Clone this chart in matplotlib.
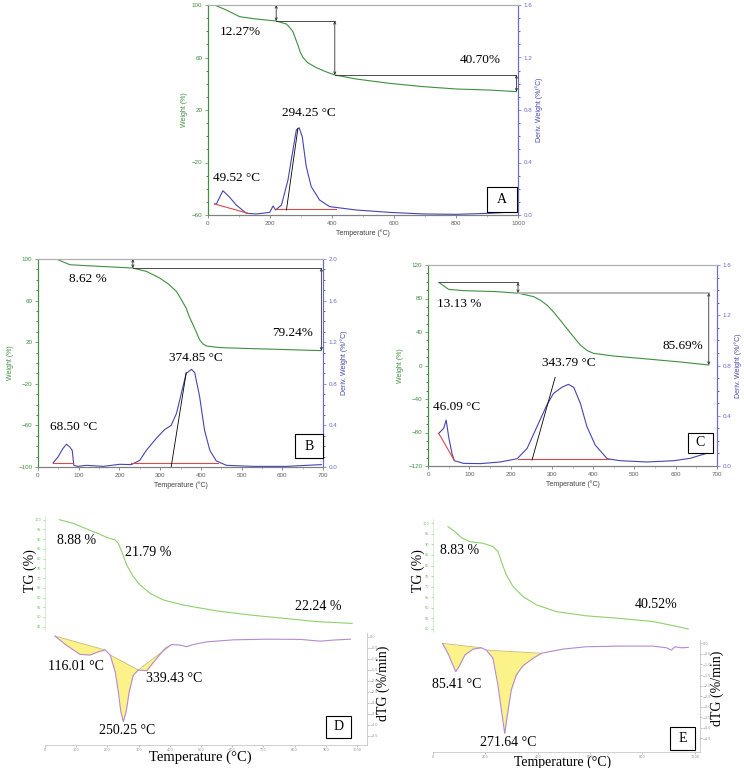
import numpy as np
import matplotlib
matplotlib.use("Agg")
import matplotlib.pyplot as plt
from matplotlib.patches import Rectangle
from matplotlib.ticker import MultipleLocator

# ── data ──────────────────────────────────────────────────────────
# Panel A
a_tg_T = [21, 59, 102, 156, 220, 253, 263, 274, 282, 290, 297, 306, 322, 349, 382, 409, 478, 586,
          694, 801, 909, 995]
a_tg_W = [100, 96.2, 91.1, 89.3, 87.8, 85.5, 83.0, 79.7, 74.5, 69.5, 64.4, 60.1, 56.0, 52.3, 49.0,
          46.7, 43.6, 40.3, 37.8, 36.0, 35.2, 34.0]
a_dtg_T = [21, 27, 48, 70, 91, 124, 156, 199, 210, 218, 237, 258, 274, 285, 294, 304, 317, 333,
           360, 392, 435, 478, 586, 694, 801, 909, 1000]
a_dtg_D = [0.084, 0.084, 0.185, 0.135, 0.076, 0.013, 0.008, 0.02, 0.069, 0.038, 0.076, 0.267, 0.495,
           0.648, 0.665, 0.597, 0.368, 0.216, 0.114, 0.064, 0.051, 0.038, 0.02, 0.008, 0.005, 0.013, 0.025]
a_step_T = [21, 220, 409, 995]
a_step_W = [100, 87.8, 46.7, 34.0]
a_base = [([21, 129], [0.084, 0.013]), ([218, 414], [0.045, 0.045])]
a_tan = ([253, 290], [0.038, 0.66])

# Panel B
b_tg_T = [45, 78, 119, 184, 233, 266, 299, 320, 340, 352, 364, 372, 381, 397, 405, 413, 446, 528, 610, 696]
b_tg_W = [100, 94.5, 93.6, 92.3, 91.3, 88.1, 81.7, 76.0, 68.8, 61.0, 52.7, 44.0, 36.7, 22.2, 18.5,
          16.4, 14.8, 13.8, 12.9, 11.9]
b_dtg_T = [37, 49, 61, 70, 78, 84, 88, 98, 119, 160, 201, 229, 250, 266, 290, 311, 327, 340, 352,
           364, 377, 385, 397, 409, 422, 438, 463, 528, 610, 696]
b_dtg_D = [0.039, 0.096, 0.177, 0.219, 0.193, 0.16, 0.016, 0.006, 0.016, 0.006, 0.026, 0.023, 0.064,
           0.16, 0.273, 0.36, 0.40, 0.514, 0.707, 0.90, 0.939, 0.907, 0.675, 0.354, 0.161, 0.058,
           0.016, 0.006, 0.006, 0.023]
b_step_T = [45, 233, 696]
b_step_W = [100, 91.3, 11.9]
b_base = [([37, 86], [0.039, 0.039]), ([229, 441], [0.039, 0.039])]
b_tan = ([327, 364], [0.0, 0.907])

# Panel C
c_tg_T = [26, 50, 86, 167, 220, 256, 272, 288, 304, 320, 335, 349, 369, 385, 401, 450, 530, 611, 680]
c_tg_W = [99.3, 90.9, 89.4, 88.2, 86.2, 82.2, 78.0, 72.2, 64.0, 54.3, 45.0, 36.4, 24.4, 18.0, 14.5,
          11.3, 7.8, 4.2, 0.6]
c_dtg_T = [26, 38, 44, 50, 58, 64, 86, 127, 175, 216, 240, 264, 288, 304, 324, 340, 353, 369, 385,
           405, 434, 466, 530, 595, 635, 680]
c_dtg_D = [0.26, 0.30, 0.366, 0.233, 0.10, 0.042, 0.021, 0.019, 0.032, 0.058, 0.14, 0.313, 0.486,
           0.578, 0.626, 0.65, 0.626, 0.499, 0.313, 0.167, 0.058, 0.042, 0.032, 0.042, 0.061, 0.106]
c_step_T = [26, 218, 680]
c_step_W = [99.3, 86.6, 0.6]
c_base = [([26, 64], [0.26, 0.042]), ([218, 438], [0.053, 0.053])]
c_tan = ([252, 308], [0.048, 0.706])

# Panel D
d_tg_T = [46, 91, 134, 176, 198, 225, 235, 246, 262, 283, 305, 337, 380, 444, 551, 658, 765, 872, 984]
d_tg_W = [100, 98.1, 95.2, 92.5, 90.9, 89.6, 87.8, 83.6, 76.7, 70.7, 66.4, 62.1, 58.7, 56.1, 53.1,
          51.0, 49.3, 47.6, 46.7]
d_dtg_T = [32, 68, 112, 144, 171, 193, 209, 225, 235, 243, 251, 260, 270, 283, 299, 326, 358, 385,
           406, 433, 454, 476, 519, 604, 711, 818, 882, 925, 979]
d_dtg_V = [0.03, -0.38, -0.80, -0.83, -0.68, -0.60, -0.83, -1.59, -2.49, -3.40, -3.85, -3.40, -2.49,
           -1.74, -1.51, -1.54, -0.98, -0.53, -0.35, -0.38, -0.45, -0.35, -0.23, -0.14, -0.11, -0.12,
           -0.20, -0.15, -0.11]
d_fills = [(32, 193), (209, 299), (299, 406)]

# Panel E
e_tg_T = [57, 83, 108, 140, 191, 229, 248, 261, 280, 306, 344, 395, 471, 586, 713, 841, 904, 975]
e_tg_W = [98.4, 96.1, 93.2, 91.3, 90.5, 89.0, 86.6, 81.9, 75.6, 70.0, 65.3, 61.4, 58.2, 56.2, 55.0,
          53.5, 51.9, 50.0]
e_dtg_T = [36, 57, 76, 87, 99, 122, 153, 185, 204, 229, 248, 264, 274, 284, 299, 318, 344, 382, 414,
           446, 497, 586, 713, 841, 892, 911, 924, 949, 975]
e_dtg_V = [0, -0.47, -1.03, -1.34, -1.11, -0.55, -0.27, -0.21, -0.32, -0.71, -1.97, -3.40, -4.27,
           -3.40, -2.21, -1.50, -1.06, -0.71, -0.47, -0.39, -0.27, -0.16, -0.13, -0.13, -0.21, -0.32,
           -0.16, -0.21, -0.19]
e_fills = [(36, 185), (204, 414)]

# ── style ──────────────────────────────────────────────────────────
SERIF = "Liberation Serif"
SANS = "Liberation Sans"
GREEN = "#3f8f3f"
BLUE = "#4545b0"
RED = "#d84a4a"
GRAY = "#808080"
LGREEN = "#8fd06c"
PURPLE = "#b48ad2"
YELLOW = "#fbf38a"

W_PX, H_PX = 744, 768
fig = plt.figure(figsize=(W_PX / 100, H_PX / 100), dpi=100)


def rect(x0, y0, x1, y1):
    return [x0 / W_PX, 1 - y1 / H_PX, (x1 - x0) / W_PX, (y1 - y0) / H_PX]


def ftext(x, y, s, size=9.5, **kw):
    fig.text(x / W_PX, 1 - y / H_PX, s, ha="center", va="center",
             fontsize=size, family=kw.pop("family", SERIF), **kw)


def label_box(x0, y0, x1, y1, s):
    fig.add_artist(Rectangle((x0 / W_PX, 1 - y1 / H_PX), (x1 - x0) / W_PX, (y1 - y0) / H_PX,
                             transform=fig.transFigure, fc="white", ec="black", lw=0.8))
    ftext((x0 + x1) / 2, (y0 + y1) / 2, s, size=10)


def ta_panel(box, xmax, xmaj, xmin, wlim, wstep, dmax, tg, dtg, steps, bases, tan, light_last=False):
    ax = fig.add_axes(rect(*box))
    ax2 = ax.twinx()
    ax.plot(*tg, color=GREEN, lw=0.8)
    ax2.plot(*dtg, color=BLUE, lw=0.8)
    for bx, by in bases:
        ax2.plot(bx, by, color=RED, lw=0.8)
    ax2.plot(*tan, color="black", lw=0.6)

    sT, sW = steps
    for i in range(len(sT) - 1):
        last = i == len(sT) - 2
        if light_last and last:
            ax.plot([sT[i], sT[i + 1]], [sW[i], sW[i]], color="#b8b8b8", lw=1.4)
        else:
            ax.plot([sT[i], sT[i + 1]], [sW[i], sW[i]], color="#303030", lw=0.6)
        ax.annotate("", xy=(sT[i + 1], sW[i + 1]), xytext=(sT[i + 1], sW[i]),
                    arrowprops=dict(arrowstyle="<->", lw=0.6, color="#303030",
                                    mutation_scale=4, shrinkA=0, shrinkB=0))

    ax.set_xlim(0, xmax)
    ax.set_ylim(*wlim)
    ax2.set_ylim(0, dmax)
    ax.xaxis.set_major_locator(MultipleLocator(xmaj))
    ax.xaxis.set_minor_locator(MultipleLocator(xmin))
    ax.set_yticks(np.arange(wlim[1], wlim[0] - 1, -wstep))
    ax.set_yticks(np.arange(wlim[1], wlim[0] - 1, -wstep / 4), minor=True)
    ax2.yaxis.set_major_locator(MultipleLocator(0.4))
    ax2.yaxis.set_minor_locator(MultipleLocator(0.1))

    for a in (ax, ax2):
        a.spines["top"].set_color("#b0b0b0")
        a.spines["bottom"].set_color(GRAY)
        a.spines["left"].set_color(GREEN)
        a.spines["right"].set_color("#6a6ad0")
        for sp in a.spines.values():
            sp.set_linewidth(0.8)
    ax.tick_params(axis="x", labelsize=4.5, colors="#606060", length=2.5, width=0.5, pad=2)
    ax.tick_params(axis="x", which="minor", length=1.5, width=0.4, colors="#909090")
    ax.tick_params(axis="y", labelsize=4.5, colors=GREEN, length=2.5, width=0.5, pad=1.5)
    ax.tick_params(axis="y", which="minor", length=1.5, width=0.4)
    ax2.tick_params(axis="y", labelsize=4.5, colors="#6a6ad0", length=2.5, width=0.5, pad=1.5)
    ax2.tick_params(axis="y", which="minor", length=1.5, width=0.4)
    for lab in ax.get_xticklabels() + ax.get_yticklabels() + ax2.get_yticklabels():
        lab.set_family(SANS)

    ax.set_xlabel("Temperature (°C)", fontsize=5, family=SANS, color="#404040", labelpad=2)
    ax.set_ylabel("Weight (%)", fontsize=5, family=SANS, color=GREEN, labelpad=3)
    ax2.set_ylabel("Deriv. Weight (%/°C)", fontsize=5, family=SANS, color=BLUE, labelpad=2)
    return ax, ax2


def chord_fill(ax, T, V, t0, t1):
    T = np.asarray(T, float)
    V = np.asarray(V, float)
    m = (T >= t0) & (T <= t1)
    xs, ys = T[m], V[m]
    chord = ys[0] + (ys[-1] - ys[0]) * (xs - xs[0]) / (xs[-1] - xs[0])
    ax.fill_between(xs, ys, chord, color=YELLOW, lw=0)
    ax.plot([xs[0], xs[-1]], [ys[0], ys[-1]], color="#c9b96a", lw=0.6)


def dtg_panel(tg_box, d_box, xlim, xmaj, tglim, tgticks, dlim, tg, dtg, fills):
    axt = fig.add_axes(rect(*tg_box))
    axt.plot(*tg, color=LGREEN, lw=0.8)
    axt.set_xlim(*xlim)
    axt.set_ylim(*tglim)
    axt.set_yticks(tgticks)
    axt.set_xticks([])
    for k in ("top", "right", "bottom"):
        axt.spines[k].set_visible(False)
    axt.spines["left"].set_color("#c8e8c0")
    axt.spines["left"].set_linewidth(0.5)
    axt.tick_params(axis="y", labelsize=2.5, colors="#70c060", length=1.5, width=0.4, pad=1)
    axt.patch.set_alpha(0)

    axd = fig.add_axes(rect(*d_box))
    for t0, t1 in fills:
        chord_fill(axd, *dtg, t0, t1)
    axd.plot(*dtg, color=PURPLE, lw=0.8)
    axd.set_xlim(*xlim)
    axd.set_ylim(*dlim)
    axd.set_xticks(np.arange(0, 1001, xmaj))
    axd.set_yticks(np.arange(0, -4.6, -0.5))
    axd.yaxis.tick_right()
    for k in ("top", "left"):
        axd.spines[k].set_visible(False)
    for k in ("bottom", "right"):
        axd.spines[k].set_color("#c8c8c8")
        axd.spines[k].set_linewidth(0.6)
    axd.tick_params(labelsize=2.5, colors="#909090", length=1.5, width=0.4, pad=0.5)
    axd.patch.set_alpha(0)
    return axt, axd


# ── panels A, B, C ────────────────────────────────────────────────
ta_panel((208, 5, 518, 215), 1000, 200, 100, (-60, 100), 40, 1.6,
         (a_tg_T, a_tg_W), (a_dtg_T, a_dtg_D), (a_step_T, a_step_W), a_base, a_tan)
ta_panel((38, 259, 323, 467), 700, 100, 50, (-100, 100), 40, 2.0,
         (b_tg_T, b_tg_W), (b_dtg_T, b_dtg_D), (b_step_T, b_step_W), b_base, b_tan)
ta_panel((428, 265, 717, 466), 700, 100, 50, (-120, 120), 40, 1.6,
         (c_tg_T, c_tg_W), (c_dtg_T, c_dtg_D), (c_step_T, c_step_W), c_base, c_tan,
         light_last=True)

ftext(240, 32, "12.27%")
ftext(480, 60, "40.70%")
ftext(309, 113, "294.25 °C")
ftext(237, 178, "49.52 °C")
label_box(487, 187, 517, 212, "A")

ftext(88, 279, "8.62 %")
ftext(293, 333, "79.24%")
ftext(196, 358, "374.85 °C")
ftext(74, 427, "68.50 °C")
label_box(295, 434, 323, 458, "B")

ftext(459, 304, "13.13 %")
ftext(683, 346, "85.69%")
ftext(569, 363, "343.79 °C")
ftext(457, 407, "46.09 °C")
label_box(688, 433, 713, 453, "C")

# ── panels D, E ───────────────────────────────────────────────────
dtg_panel((45, 516, 367, 630), (45, 633, 367, 745), (0, 1032), 100,
          (43.3, 101.9), np.arange(100, 44, -5), (-4.91, 0.17),
          (d_tg_T, d_tg_W), (d_dtg_T, d_dtg_V), d_fills)
dtg_panel((433, 519, 700, 632), (433, 640, 700, 752), (0, 1020), 200,
          (48.56, 102.0), np.arange(100, 49, -5), (-5.15, 0.16),
          (e_tg_T, e_tg_W), (e_dtg_T, e_dtg_V), e_fills)

ftext(30, 571, "TG (%)", size=10, rotation=90)
ftext(77, 541, "8.88 %", size=10)
ftext(148, 552, "21.79 %", size=10)
ftext(318, 606, "22.24 %", size=10)
ftext(76, 667, "116.01 °C", size=10)
ftext(174, 678, "339.43 °C", size=10)
ftext(127, 730, "250.25 °C", size=10)
ftext(200, 757, "Temperature (°C)", size=10.5)
ftext(383, 683, "dTG (%/min)", size=10, rotation=90)
label_box(326, 716, 351, 738, "D")

ftext(418, 571, "TG (%)", size=10, rotation=90)
ftext(460, 550, "8.83 %", size=10)
ftext(656, 605, "40.52%", size=10)
ftext(457, 685, "85.41 °C", size=10)
ftext(508, 742, "271.64 °C", size=10)
ftext(563, 762, "Temperature (°C)", size=10)
ftext(717, 688, "dTG (%/min)", size=10, rotation=90)
label_box(670, 727, 695, 750, "E")

fig.savefig("out.png", dpi=100)
